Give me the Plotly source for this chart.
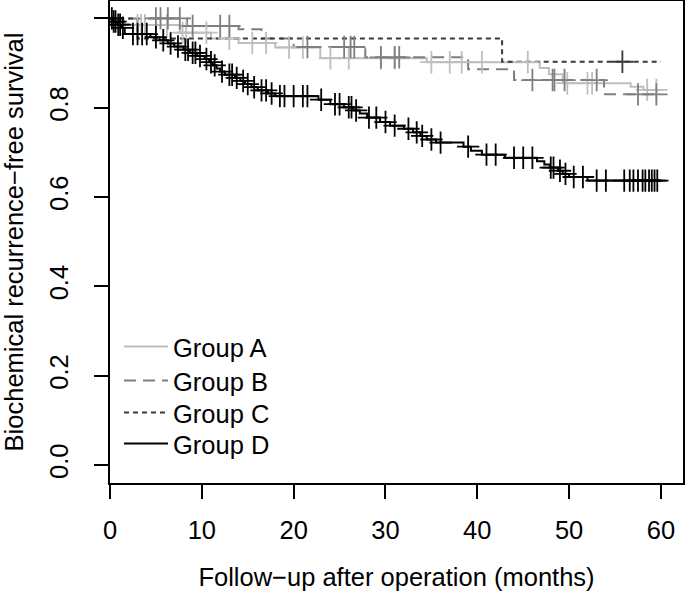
import numpy as np
import plotly.graph_objects as go

T_END = 60

# Group A (light gray, solid)
a_t = [0, 1.5, 7.6, 11.0, 14.0, 18.0, 22.9, 34.5, 46.8, 47.8, 49.3, 56.7, 58.1]
a_s = [1.0, 0.985, 0.968, 0.955, 0.945, 0.935, 0.911, 0.902, 0.889, 0.875, 0.855, 0.847, 0.840]
a_cens = [3.0, 3.4, 3.8, 6.2, 7.9, 8.3, 10.5, 13.0, 15.5, 17.0, 19.5, 21.0, 24.0, 26.0, 29.5,
          31.0, 35.0, 37.0, 38.3, 40.5, 45.5, 49.8, 52.0, 52.5, 58.5, 59.5]

# Group B (gray, long dash)
b_t = [0, 8.4, 14.0, 16.5, 20.0, 27.8, 39.0, 44.0, 53.8]
b_s = [1.0, 0.983, 0.976, 0.955, 0.936, 0.913, 0.886, 0.862, 0.830]
b_cens = [5.0, 5.5, 6.3, 7.6, 9.0, 12.0, 13.0, 21.5, 25.5, 26.2, 26.6, 29.5, 31.0, 31.5,
          46.0, 48.2, 48.4, 49.5, 53.0, 57.5, 59.5]

# Group C (dark gray, short dash)
c_t = [0, 3.0, 42.7]
c_s = [1.0, 0.955, 0.903]
c_cens = [55.8]

# Group D (black, solid)
d_t = [0, 0.3, 0.8, 1.2, 1.6, 4.4, 5.4, 6.3, 7.0, 8.0, 8.7, 9.5, 10.3, 10.8, 11.2, 11.6,
       12.0, 12.5, 13.6, 14.2, 14.7, 15.4, 16.1, 17.2, 18.0, 22.7, 24.0, 25.5, 26.5, 27.2,
       28.0, 29.4, 30.5, 32.0, 33.0, 33.8, 34.5, 35.5, 38.5, 39.3, 40.5, 43.0, 46.5, 47.3,
       47.9, 48.8, 49.3, 50.0, 52.0]
d_s = [1.0, 0.993, 0.986, 0.979, 0.965, 0.958, 0.951, 0.944, 0.937, 0.930, 0.923, 0.916,
       0.909, 0.902, 0.895, 0.888, 0.881, 0.874, 0.867, 0.860, 0.853, 0.846, 0.839, 0.832,
       0.826, 0.818, 0.808, 0.801, 0.794, 0.787, 0.778, 0.768, 0.760, 0.753, 0.745, 0.737,
       0.729, 0.722, 0.713, 0.704, 0.695, 0.688, 0.680, 0.673, 0.666, 0.659, 0.652, 0.645,
       0.637]
d_cens = [0.2, 0.4, 0.6, 0.9, 1.1, 1.4, 2.5, 3.0, 3.5, 4.0, 5.0, 5.8, 6.6, 7.4, 8.2, 8.5,
          9.0, 9.3, 9.8, 10.5, 11.0, 11.4, 12.2, 13.0, 13.3, 13.8, 14.5, 15.0, 15.7, 16.5,
          17.0, 17.6, 18.5, 19.0, 20.0, 21.0, 21.5, 23.0, 24.5, 25.0, 26.0, 26.3, 26.8, 28.2,
          29.0, 30.0, 31.0, 32.5, 33.4, 34.0, 35.0, 36.0, 39.0, 41.0, 42.0, 44.0, 45.0, 46.0,
          48.0, 48.3, 49.0, 49.6, 50.5, 51.5, 53.0, 54.0, 56.0, 56.6, 57.0, 57.5, 58.0, 58.3,
          58.7, 59.0, 59.3, 59.6]

x_ticks = [0, 10, 20, 30, 40, 50, 60]
y_ticks = [0.0, 0.2, 0.4, 0.6, 0.8, 1.0]
y_tick_text = ["0.0", "0.2", "0.4", "0.6", "0.8", "1.0"]

groups = [
    ("Group A", a_t, a_s, a_cens, "#BEBEBE", "solid"),
    ("Group B", b_t, b_s, b_cens, "#7F7F7F", "12px,7px"),
    ("Group C", c_t, c_s, c_cens, "#3A3A3A", "5px,4px"),
    ("Group D", d_t, d_s, d_cens, "#000000", "solid"),
]

FONT = "Liberation Sans, Arial, sans-serif"
FS = 25.5
H_PLOT = 482
legend_rows_px = [347, 381, 413, 444]  # vertical centres of legend rows (pixels from top)

fig = go.Figure()
legend_ids = ["legend", "legend2", "legend3", "legend4"]
for i, (name, t, s, cens, col, dash) in enumerate(groups):
    xs = list(t) + [T_END]
    ys = list(s) + [s[-1]]
    fig.add_trace(go.Scatter(x=xs, y=ys, mode="lines", name=name, legend=legend_ids[i],
                             line=dict(color=col, width=2, dash=dash, shape="hv"),
                             hoverinfo="skip"))
for name, t, s, cens, col, dash in groups:
    ta = np.array(t); sa = np.array(s); ca = np.array(cens)
    idx = np.searchsorted(ta, ca, side="right") - 1
    fig.add_trace(go.Scatter(x=ca, y=sa[idx], mode="markers", showlegend=False,
                             marker=dict(symbol="cross-thin", size=16,
                                         line=dict(color=col, width=1.8)),
                             hoverinfo="skip"))

axis_common = dict(showline=True, linecolor="black", linewidth=1.5, mirror=True,
                   ticks="outside", ticklen=14, tickwidth=1.5, tickcolor="black",
                   showgrid=False, zeroline=False, automargin=False,
                   tickfont=dict(family=FONT, size=FS, color="black"))

leg_common = dict(x=0.0157, xanchor="left", yanchor="middle",
                  bgcolor="rgba(0,0,0,0)", borderwidth=0,
                  font=dict(family=FONT, size=FS, color="black"), itemwidth=44)
legends = {}
for i, lid in enumerate(legend_ids):
    legends[lid] = dict(y=(1 + H_PLOT - legend_rows_px[i]) / H_PLOT, **leg_common)

fig.update_layout(
    width=685, height=595,
    margin=dict(l=110, r=2, t=1, b=112),
    plot_bgcolor="white", paper_bgcolor="white",
    xaxis=dict(range=[0, 62.4], tickvals=x_ticks, ticklabelstandoff=10,
               title=dict(text="Follow\u2212up after operation (months)",
                          font=dict(family=FONT, size=FS, color="black"), standoff=25),
               **axis_common),
    yaxis=dict(range=[-0.04, 1.039], tickvals=y_ticks, ticktext=y_tick_text,
               tickangle=-90, ticklabelstandoff=16,
               title=dict(text="Biochemical recurrence\u2212free survival",
                          font=dict(family=FONT, size=FS, color="black"), standoff=15),
               **axis_common),
    showlegend=True,
    **legends,
)

fig.write_html("out.html", post_script="document.body.style.margin='0';",
               config={"displayModeBar": False})
